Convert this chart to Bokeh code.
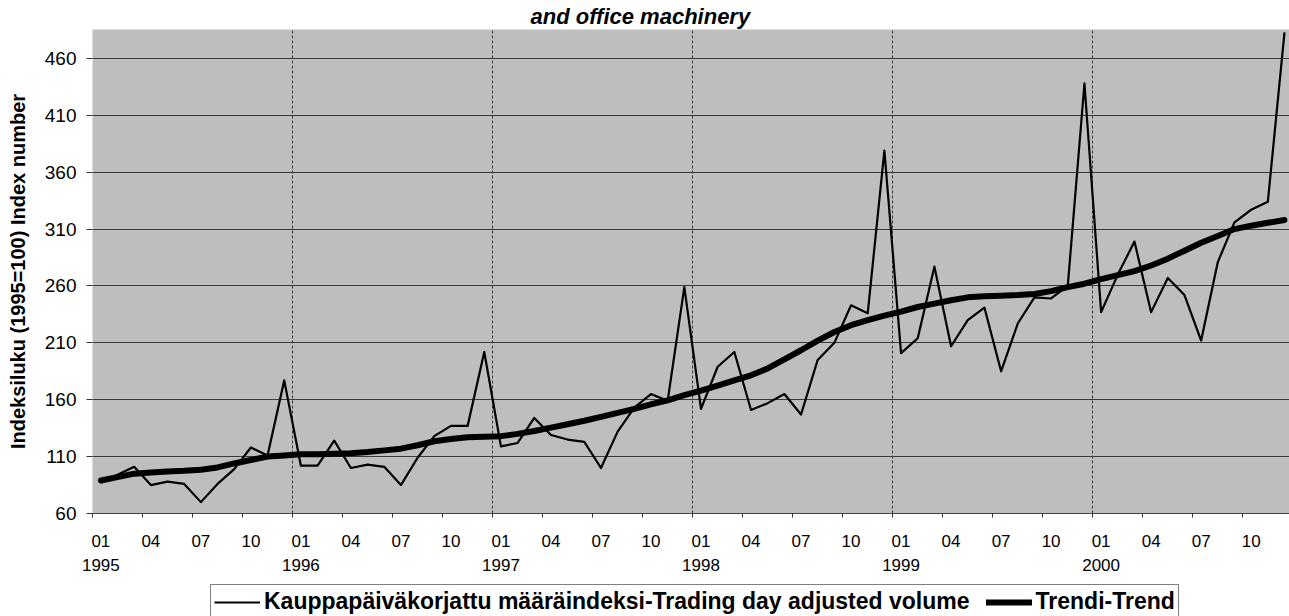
from bokeh.plotting import figure
from bokeh.layouts import column
from bokeh.models import FixedTicker, Range1d, Legend, LegendItem
from bokeh.embed import file_html
from bokeh.resources import INLINE

# ---------------- data ----------------
years = [1995, 1996, 1997, 1998, 1999, 2000]
quarter_labels = ["01", "04", "07", "10"]
y_ticks = [60, 110, 160, 210, 260, 310, 360, 410, 460]

# Trading day adjusted volume index, monthly 1995-01 .. 2000-12
volume = [
    87, 94, 101, 85, 88, 86, 70, 86, 99, 118, 111, 177,      # 1995
    102, 102, 124, 100, 103, 101, 85, 109, 128, 137, 137, 202,  # 1996
    119, 122, 144, 129, 125, 123, 100, 132, 153, 165, 159, 259,  # 1997
    152, 189, 202, 151, 157, 165, 147, 195, 210, 243, 236, 379,  # 1998
    201, 214, 277, 207, 230, 241, 185, 227, 250, 249, 260, 438,  # 1999
    237, 270, 299, 237, 267, 252, 212, 281, 316, 327, 334, 483,  # 2000
]
trend = [
    89, 92, 95, 96, 97, 97.5, 98.5, 100.5, 104, 107, 110, 111,
    112, 112, 112.5, 113, 114, 115.5, 117, 120, 123.5, 125.5, 127, 127.5,
    128, 130, 132.5, 135.5, 138.5, 141.5, 145, 148.5, 152, 156, 159.5, 164,
    168, 172.5, 177, 181.5, 187.5, 195.5, 203.5, 212, 219.5, 225.5, 230, 234,
    237.5, 241.5, 244.5, 247.5, 250, 251, 251.5, 252, 253, 255.5, 259, 262,
    266, 269.5, 273, 278, 284, 291, 298, 304, 310, 313, 315.5, 318,
]

title_text = "and office machinery"
ytitle = "Indeksiluku (1995=100) Index number"
legend_a = "Kauppapäiväkorjattu määräindeksi-Trading day adjusted volume"
legend_b = "Trendi-Trend"

x = list(range(len(volume)))

# ---------------- layout ----------------
W = 1289
H_MAIN, H_LEG = 578, 38
FRAME_BOTTOM = 513
BL, BT = 92, 28
BB = H_MAIN - FRAME_BOTTOM
X0, X1 = -0.5, 71.3
Y0 = 60
Y1 = 460 + (57 - BT) / 1.14
FONT = "Liberation Sans"

p = figure(width=W, height=H_MAIN, output_backend="svg", toolbar_location=None,
           x_range=Range1d(X0, X1), y_range=Range1d(Y0, Y1),
           min_border_left=BL, min_border_right=0, min_border_top=BT,
           min_border_bottom=BB, title=title_text)
p.background_fill_color = "#bebebe"
p.border_fill_color = "white"
p.outline_line_color = None

# title
p.title.align = "left"
p.title.offset = 438
p.title.standoff = 2
p.title.text_font = FONT
p.title.text_font_size = "22px"
p.title.text_font_style = "bold italic"
p.title.text_color = "black"

# ---------------- axes ----------------
n = len(volume)
label_pos = list(range(0, n, 3))
minor_pos = [t - 0.5 for t in label_pos] + [n - 0.5]
overrides = {}
for t in label_pos:
    lab = quarter_labels[(t % 12) // 3]
    if t % 12 == 0:
        lab = lab + "\n" + str(years[t // 12])
    overrides[t] = lab

xa = p.xaxis[0]
xa.ticker = FixedTicker(ticks=label_pos, minor_ticks=minor_pos)
xa.major_label_overrides = overrides
xa.major_tick_line_color = None
xa.major_tick_out = 0
xa.major_tick_in = 0
xa.minor_tick_out = 4
xa.minor_tick_in = 0
xa.minor_tick_line_color = "#333333"
xa.axis_line_color = "#444444"
xa.major_label_standoff = 14
xa.major_label_text_font = FONT
xa.major_label_text_font_size = "17px"
xa.major_label_text_color = "black"
xa.major_label_text_line_height = 1.3

ya = p.yaxis[0]
ya.ticker = FixedTicker(ticks=y_ticks)
ya.axis_line_color = None
ya.major_tick_out = 6
ya.major_tick_in = 0
ya.major_tick_line_color = "#333333"
ya.minor_tick_line_color = None
ya.major_label_standoff = 10
ya.major_label_text_font = FONT
ya.major_label_text_font_size = "19px"
ya.major_label_text_color = "black"
ya.axis_label = ytitle
ya.axis_label_standoff = 13
ya.axis_label_text_font = FONT
ya.axis_label_text_font_size = "20px"
ya.axis_label_text_font_style = "bold"
ya.axis_label_text_color = "black"

# grids
p.ygrid[0].ticker = FixedTicker(ticks=y_ticks)
p.ygrid[0].grid_line_color = "#3a3a3a"
p.ygrid[0].grid_line_width = 1
year_bounds = [12 * k - 0.5 for k in range(1, len(years))]
p.xgrid[0].ticker = FixedTicker(ticks=year_bounds)
p.xgrid[0].grid_line_color = "#3a3a3a"
p.xgrid[0].grid_line_width = 1
p.xgrid[0].grid_line_dash = "3 2"

# ---------------- series ----------------
vol_style = dict(line_color="black", line_width=2.2, line_join="round")
trend_style = dict(line_color="black", line_width=6, line_join="round",
                   line_cap="round")
p.line(x, volume, **vol_style)
p.line(x, trend, **trend_style)

# ---------------- legend strip ----------------
leg = figure(width=W, height=H_LEG, output_backend="svg",
             toolbar_location=None, x_axis_type=None, y_axis_type=None,
             x_range=Range1d(X0, X1), y_range=Range1d(Y0, Y1),
             min_border=0, min_border_left=0, min_border_right=0,
             min_border_top=0, min_border_bottom=0)
leg.outline_line_color = None
leg.background_fill_color = "white"
leg.border_fill_color = "white"
leg.grid.visible = False
# legend-key proxies: single-point lines (a line needs two points to draw)
k1 = leg.line(x[:1], volume[:1], **vol_style)
k2 = leg.line(x[:1], trend[:1], **trend_style)
legend = Legend(
    items=[LegendItem(label=legend_a, renderers=[k1]),
           LegendItem(label=legend_b, renderers=[k2])],
    orientation="horizontal", location=(210 - BL, -3), margin=0,
    padding=3, spacing=16, glyph_width=46, glyph_height=22, label_height=22,
    label_standoff=4, border_line_color="black", border_line_width=1,
    background_fill_color="white", background_fill_alpha=1.0,
    label_text_font=FONT, label_text_font_size="23px",
    label_text_font_style="bold", label_text_color="black")
leg.add_layout(legend)

page = column(p, leg, spacing=0)
open("out.html", "w").write(file_html(page, INLINE))
